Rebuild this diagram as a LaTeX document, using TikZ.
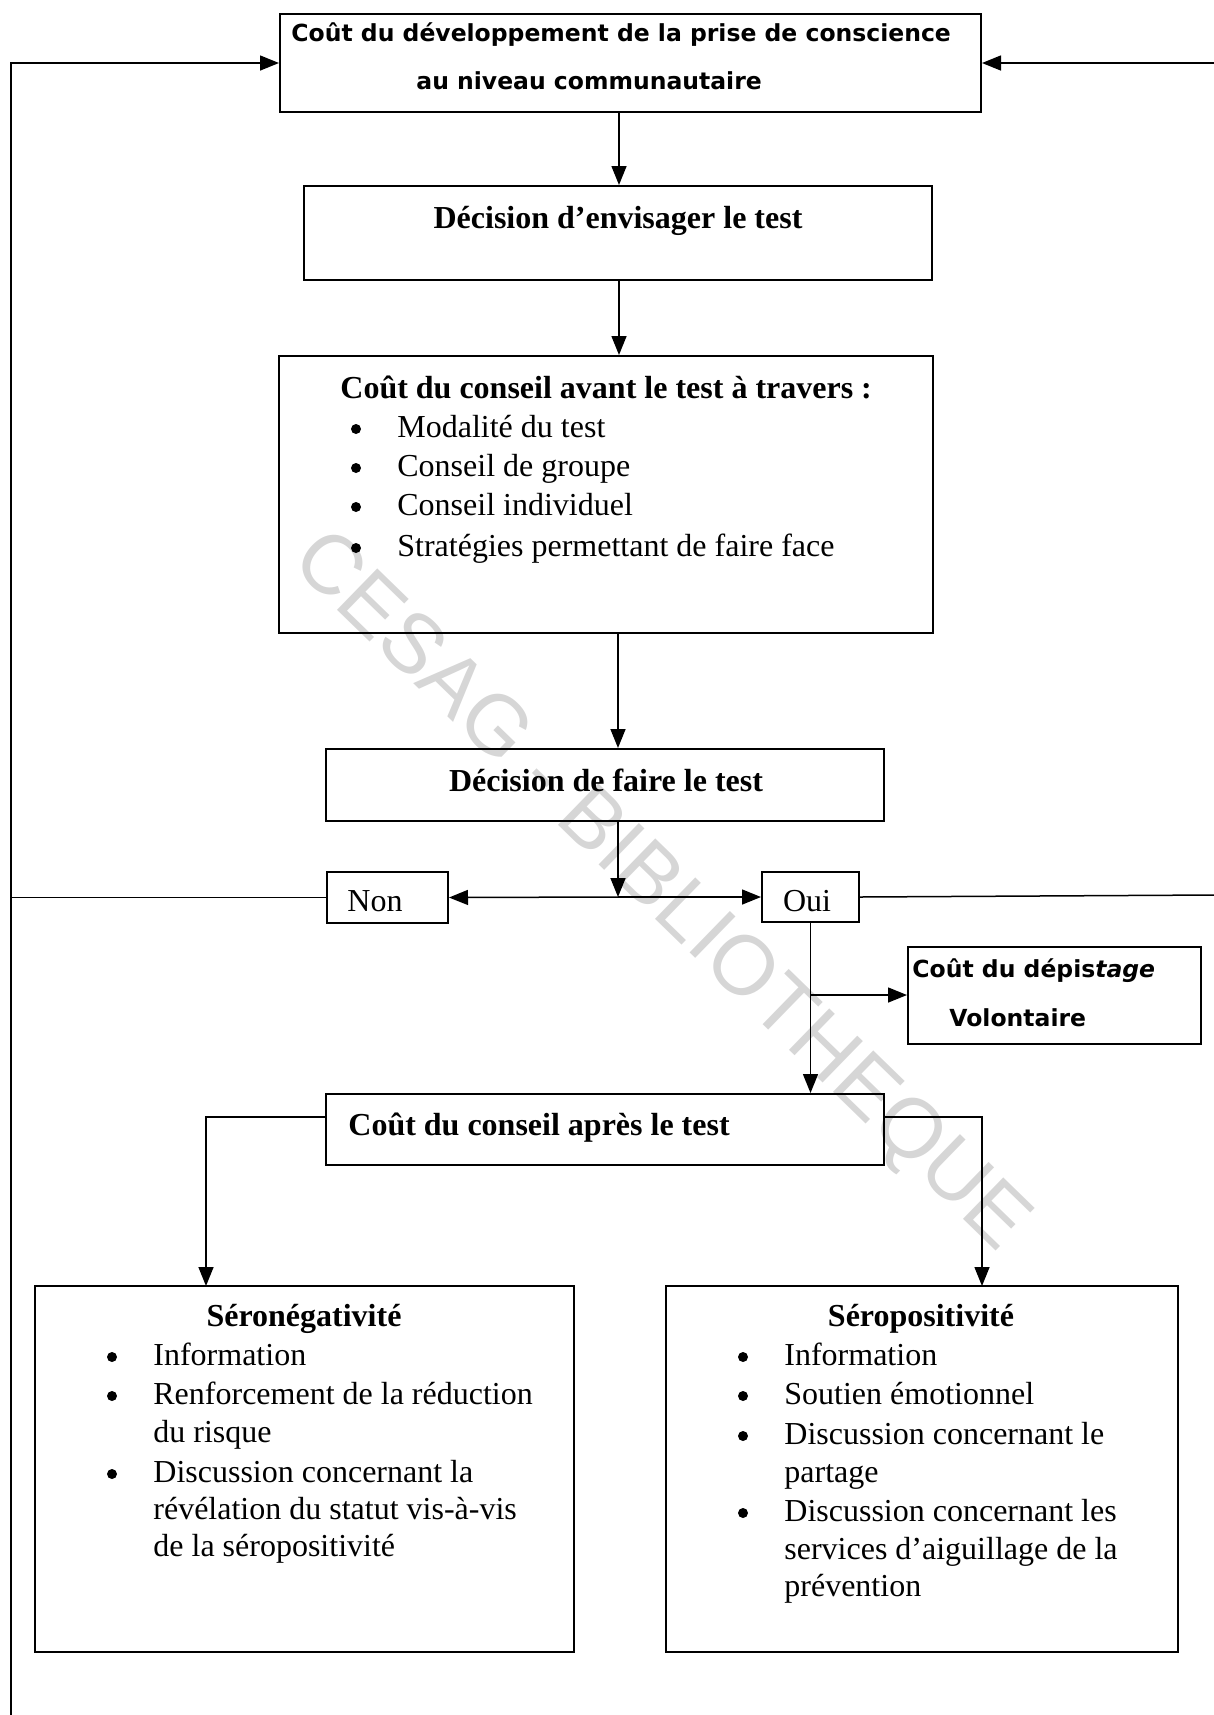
\documentclass[tikz,border=0pt]{standalone}
\usepackage{fontspec}
\setmainfont{Liberation Serif}
\newfontfamily\sansb{DejaVu Sans}
\newfontfamily\wmfont{Liberation Sans}
\usetikzlibrary{arrows.meta}
\tikzset{
  box/.style={draw, line width=1pt, inner sep=0pt, anchor=center},
  arr/.style={line width=0.75pt, -{Triangle[length=9.5pt,width=7.5pt]}},
  conn/.style={line width=0.75pt},
  serif/.style={inner sep=0pt, font=\fontsize{16pt}{19pt}\selectfont},
  serifb/.style={inner sep=0pt, font=\fontsize{16pt}{19pt}\selectfont\bfseries},
  sans/.style={inner sep=0pt, font=\sansb\fontsize{11.75pt}{14pt}\selectfont\bfseries},
  item/.style={serif, anchor=base west},
  bul/.style={circle, fill=black, inner sep=0pt, minimum size=5pt},
}
\begin{document}
\begin{tikzpicture}[x=0.5pt, y=-0.5pt]
\useasboundingbox (0,0) rectangle (1214,1715);
% watermark
\node[rotate=-44.2, text=black!16, inner sep=0pt, font=\wmfont\fontsize{42pt}{42pt}\selectfont] (wm) at (659,893) {CESAG - BIBLIOTHEQUE};

% boxes
\node[box, minimum width=350.5pt, minimum height=49pt] (top) at (630.5,63) {};
\node[box, minimum width=314pt, minimum height=47pt] (dec1) at (618,233) {};
\node[box, minimum width=327pt, minimum height=138.5pt] (avant) at (606,494.5) {};
\node[box, minimum width=279pt, minimum height=36pt] (dec2) at (605,785) {};
\node[box, minimum width=60.5pt, minimum height=25.5pt] (non) at (387.5,897.5) {};
\node[box, minimum width=48.5pt, minimum height=25pt] (oui) at (810.5,897) {};
\node[box, minimum width=146.5pt, minimum height=48.5pt] (dep) at (1054.5,995.5) {};
\node[box, minimum width=279pt, minimum height=35.5pt] (apres) at (605,1129.5) {};
\node[box, minimum width=269.5pt, minimum height=183pt] (neg) at (304.5,1469) {};
\node[box, minimum width=256pt, minimum height=183pt] (pos) at (922,1469) {};

% texts
\node[sans, anchor=base west] (t1a) at (291,41) {Coût du développement de la prise de conscience};
\node[sans, anchor=base west] (t1b) at (416,89) {au niveau communautaire};
\node[serifb, anchor=base] (t2) at (618,228) {Décision d’envisager le test};
\node[serifb, anchor=base west] (t3) at (340,398) {Coût du conseil avant le test à travers :};
\foreach \yy/\tt [count=\i] in {437/Modalité du test, 476/Conseil de groupe, 515/Conseil individuel, 556/Stratégies permettant de faire face}{
  \node[bul] (ab\i) at (356,\yy-8) {};
  \node[item] (at\i) at (397,\yy) {\tt};
}
\node[serifb, anchor=base] (t4) at (606,791) {Décision de faire le test};
\node[serif, anchor=base] (tnon) at (375,911) {Non};
\node[serif, anchor=base] (toui) at (807,911) {Oui};
\node[sans, anchor=base west] (t5a) at (912,977) {Coût du dépis\textit{tage}};
\node[sans, anchor=base west] (t5b) at (949,1026) {Volontaire};
\node[serifb, anchor=base west] (t6) at (348,1135) {Coût du conseil après le test};

\node[serifb, anchor=base] (t7) at (304,1326) {Séronégativité};
\foreach \yy/\tt [count=\i] in {1365/Information, 1404/Renforcement de la réduction, 1442/du risque, 1482/Discussion concernant la, 1519/révélation du statut vis-à-vis, 1556/de la séropositivité}{
  \node[item] (nt\i) at (153,\yy) {\tt};
}
\foreach \yy [count=\i] in {1365,1404,1482}{ \node[bul] (nb\i) at (112,\yy-8) {}; }

\node[serifb, anchor=base] (t8) at (921,1326) {Séropositivité};
\foreach \yy/\tt [count=\i] in {1365/Information, 1404/Soutien émotionnel, 1444/Discussion concernant le, 1482/partage, 1521/Discussion concernant les, 1559/services d’aiguillage de la, 1596/prévention}{
  \node[item] (pt\i) at (784,\yy) {\tt};
}
\foreach \yy [count=\i] in {1365,1404,1444,1521}{ \node[bul] (pb\i) at (743,\yy-8) {}; }

% connectors
\coordinate (lb) at (11,1715);
\coordinate (rt) at (1214,63);
\coordinate (ro) at (1214,895);
\coordinate (jn) at (618,897);
\coordinate (br) at (810.5,995);
\coordinate (nA) at (206,1286);
\coordinate (pA) at (982,1286);

\draw[arr] (top.south -| 619,0) -- (dec1.north -| 619,0);
\draw[arr] (dec1.south -| 619,0) -- (avant.north -| 619,0);
\draw[arr] (avant.south -| 618,0) -- (dec2.north -| 618,0);
\draw[arr] (dec2.south -| jn) -- (jn);
\draw[arr] (jn) -- (non.east);
\draw[arr] (jn) -- (oui.west);
\draw[conn] (non.west) -- (non.west -| lb);
\draw[arr] (lb) |- (top.west);
\draw[arr] (rt) -- (top.east);
\draw[conn] (oui.east) -- (ro);
\draw[arr] (oui.south) -- (oui.south |- apres.north);
\draw[arr] (br) -- (br -| dep.west);
\draw[arr] (apres.north west |- 0,1117) -| (nA);
\draw[arr] (apres.north east |- 0,1117) -| (pA);
\end{tikzpicture}
\end{document}
